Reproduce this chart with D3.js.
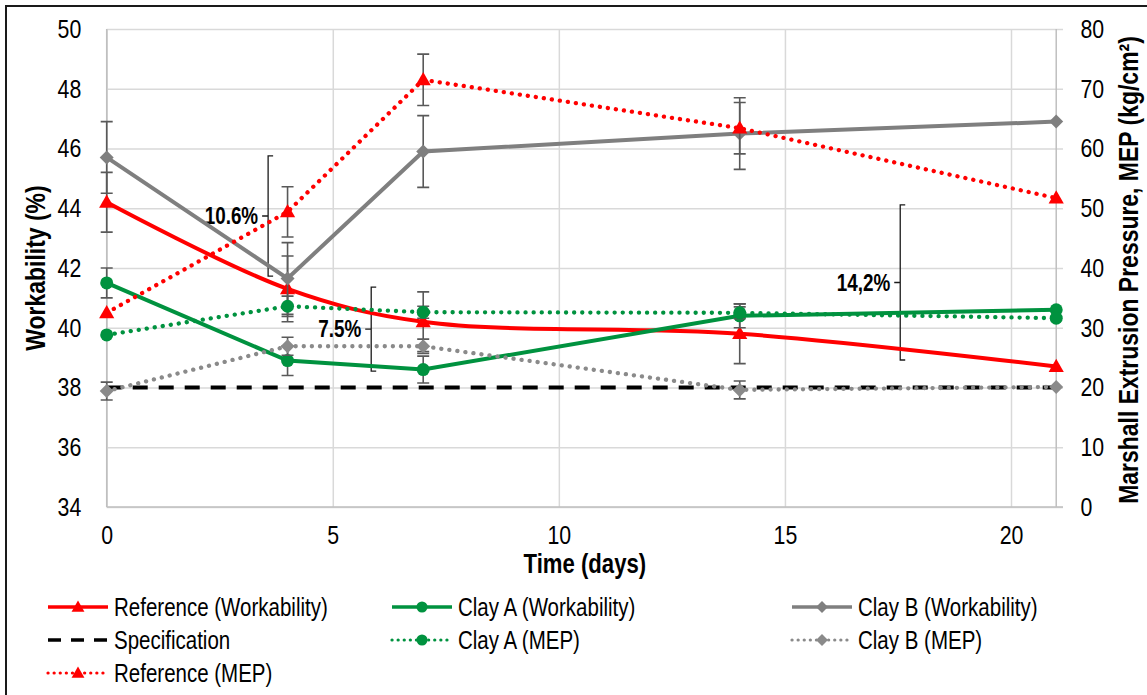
<!DOCTYPE html>
<html>
<head>
<meta charset="utf-8">
<script src="https://cdn.jsdelivr.net/npm/d3@7"></script>
<style>
  body { margin: 0; background: #fff; }
  svg text { font-family: "Liberation Sans Narrow", "Arial Narrow", "Liberation Sans", Arial, sans-serif; fill: #000; }
</style>
</head>
<body>
<div id="chart"></div>
<script>
// data
const days = [0, 4, 7, 14, 21];
const refWork = [44.2, 41.3, 40.2, 39.8, 38.7];
const refWorkErr = [1.0, 1.1, 1.0, 1.0, null];
const clayAWork = [41.5, 38.9, 38.6, 40.4, 40.6];
const clayAWorkErr = [0.5, 0.5, 0.45, 0.4, null];
const clayBWork = [45.7, 41.65, 45.9, 46.5, 46.9];
const clayBWorkErr = [1.2, 1.2, 1.2, 1.2, null];
const specWork = [38, 38, 38, 38, 38];
const clayAMep = [28.8, 33.6, 32.6, 32.5, 31.6];
const clayAMepErr = [null, 1.7, 1.0, 1.0, null];
const clayBMep = [19.4, 26.9, 26.9, 19.6, 20.1];
const clayBMepErr = [1.5, 1.5, 1.2, 1.5, null];
const refMep = [32.5, 49.4, 71.5, 63.4, 51.7];
const refMepErr = [null, 4.2, 4.3, 4.3, null];

const xTicks = [0, 5, 10, 15, 20];
const leftTicks = [34, 36, 38, 40, 42, 44, 46, 48, 50];
const rightTicks = [0, 10, 20, 30, 40, 50, 60, 70, 80];

// brackets: label, day, workability from / to
const brackets = [
    {label: "10.6%", day: 3.57, y0: 45.75, y1: 41.73},
    {label: "7.5%", day: 5.85, y0: 41.36, y1: 38.55},
    {label: "14,2%", day: 17.55, y0: 44.11, y1: 38.92}
];

const red = "#ff0000", green = "#00923f", grey = "#7f7f7f";

const series = [
    {name: "Reference (Workability)", values: refWork, err: refWorkErr, axis: "L", color: red, marker: "tri", style: "solid", smooth: true},
    {name: "Clay A (Workability)", values: clayAWork, err: clayAWorkErr, axis: "L", color: green, marker: "circle", style: "solid"},
    {name: "Clay B (Workability)", values: clayBWork, err: clayBWorkErr, axis: "L", color: grey, marker: "diamond", style: "solid"},
    {name: "Specification", values: specWork, err: null, axis: "L", color: "#000", marker: null, style: "dash"},
    {name: "Clay A (MEP)", values: clayAMep, err: clayAMepErr, axis: "R", color: green, marker: "circle", style: "dot"},
    {name: "Clay B (MEP)", values: clayBMep, err: clayBMepErr, axis: "R", color: "#8a8a8a", marker: "diamond", style: "dot"},
    {name: "Reference (MEP)", values: refMep, err: refMepErr, axis: "R", color: red, marker: "tri", style: "dot"}
];

const width = 1147, height = 695;
const plot = {left: 106.7, right: 1063, top: 29, bottom: 507};
const narrow = 0.82;  // no Arial Narrow here, so squeeze the regular face

const svg = d3.select("#chart")
    .append("svg")
    .attr("width", width)
    .attr("height", height);

// outer frame
svg.append("rect")
    .attr("x", 6).attr("y", 6)
    .attr("width", 1160).attr("height", 720)
    .attr("fill", "none")
    .attr("stroke", "#1a1a1a")
    .attr("stroke-width", 2);

const x = d3.scaleLinear().domain([0, 21.15]).range([plot.left, plot.right]);
const yL = d3.scaleLinear().domain([34, 50]).range([plot.bottom, plot.top]);
const yR = d3.scaleLinear().domain([0, 80]).range([plot.bottom, plot.top]);

// text placed at (tx, ty), squeezed along its own direction
function label(tx, ty, str, opts) {
    const o = opts || {};
    return svg.append("text")
        .attr("transform", `translate(${tx},${ty})${o.rotate ? " rotate(-90)" : ""} scale(${narrow},1)`)
        .attr("text-anchor", o.anchor || "start")
        .attr("dy", o.dy || null)
        .style("font-size", o.size || "25px")
        .style("font-weight", o.bold ? "bold" : null)
        .text(str);
}

// gridlines
svg.append("g")
    .attr("transform", `translate(0,${plot.bottom})`)
    .call(d3.axisBottom(x).tickValues(xTicks).tickSize(-(plot.bottom - plot.top)).tickFormat(""))
    .call(g => g.select(".domain").remove())
    .selectAll("line").attr("stroke", "#d9d9d9").attr("stroke-width", 1.5);

svg.append("g")
    .attr("transform", `translate(${plot.left},0)`)
    .call(d3.axisLeft(yL).tickValues(leftTicks).tickSize(-(plot.right - plot.left)).tickFormat(""))
    .call(g => g.select(".domain").remove())
    .selectAll("line").attr("stroke", "#d9d9d9").attr("stroke-width", 1.5);

// axis lines (left, bottom, and the right one at day 21)
svg.append("line")
    .attr("x1", x(0)).attr("x2", x(0))
    .attr("y1", plot.top).attr("y2", plot.bottom)
    .attr("stroke", "#bfbfbf").attr("stroke-width", 1.5);
svg.append("line")
    .attr("x1", plot.left).attr("x2", plot.right)
    .attr("y1", plot.bottom).attr("y2", plot.bottom)
    .attr("stroke", "#bfbfbf").attr("stroke-width", 1.5);
svg.append("line")
    .attr("x1", x(21)).attr("x2", x(21))
    .attr("y1", plot.top).attr("y2", plot.bottom)
    .attr("stroke", "#bfbfbf").attr("stroke-width", 1.5);

// tick labels
const tickFont = "26px";
function squeezeTicks(g) {
    g.select(".domain").remove();
    g.selectAll("text")
        .style("font-size", tickFont)
        .attr("fill", "#000")
        .attr("transform", `scale(${narrow},1)`);
}

svg.append("g")
    .attr("transform", `translate(${plot.left - 23},0)`)
    .call(d3.axisLeft(yL).tickValues(leftTicks).tickSize(0))
    .call(squeezeTicks);

svg.append("g")
    .attr("transform", `translate(${plot.right + 15},0)`)
    .call(d3.axisRight(yR).tickValues(rightTicks).tickSize(0))
    .call(squeezeTicks);

svg.append("g")
    .attr("transform", `translate(0,${plot.bottom + 16})`)
    .call(d3.axisBottom(x).tickValues(xTicks).tickSize(0))
    .call(squeezeTicks);

// axis titles
label(45, (plot.top + plot.bottom) / 2, "Workability (%)", {rotate: true, anchor: "middle", size: "28px", bold: true});
label(1138, 270, "Marshall Extrusion Pressure, MEP (kg/cm²)", {rotate: true, anchor: "middle", size: "28px", bold: true});
label((plot.left + plot.right) / 2, 573, "Time (days)", {anchor: "middle", size: "27px", bold: true});

// brackets
brackets.forEach(b => {
    const bx = x(b.day), t = yL(b.y0), bt = yL(b.y1), mid = (t + bt) / 2;
    svg.append("path")
        .attr("d", `M${bx + 5},${t} L${bx},${t} L${bx},${bt} L${bx + 5},${bt} M${bx},${mid} L${bx - 6},${mid}`)
        .attr("fill", "none")
        .attr("stroke", "#1a1a1a")
        .attr("stroke-width", 1.3);
    label(bx - 10, mid, b.label, {anchor: "end", dy: "0.35em", size: "23px", bold: true});
});

function dashFor(style) {
    if (style === "dash") return "15 11";
    if (style === "dot") return "0.1 8";
    return null;
}

function drawMarker(g, type, color, cx, cy, scale) {
    const k = scale || 1;
    if (type === "tri") {
        g.append("path")
            .attr("d", d3.symbol(d3.symbolTriangle, 100 * k * k)())
            .attr("transform", `translate(${cx},${cy + 1})`)
            .attr("fill", color);
    } else if (type === "circle") {
        g.append("circle").attr("cx", cx).attr("cy", cy).attr("r", 6.5 * k).attr("fill", color);
    } else if (type === "diamond") {
        const r = 7 * k;
        g.append("path")
            .attr("d", `M${cx},${cy - r} L${cx + r},${cy} L${cx},${cy + r} L${cx - r},${cy} Z`)
            .attr("fill", color);
    }
}

// series
series.forEach(s => {
    const y = s.axis === "L" ? yL : yR;
    const pts = days.map((d, i) => [d, s.values[i], s.err ? s.err[i] : null]);
    const g = svg.append("g");
    const line = d3.line()
        .x(d => x(d[0]))
        .y(d => y(d[1]))
        .curve(s.smooth ? d3.curveCatmullRom.alpha(0.5) : d3.curveLinear);

    g.append("path")
        .datum(pts)
        .attr("d", line)
        .attr("fill", "none")
        .attr("stroke", s.color)
        .attr("stroke-width", s.style === "dot" ? 4.3 : 4)
        .attr("stroke-linecap", s.style === "dot" ? "round" : "butt")
        .attr("stroke-dasharray", dashFor(s.style));

    // error bars
    pts.filter(d => d[2] != null).forEach(d => {
        const cx = x(d[0]), y0 = y(d[1] - d[2]), y1 = y(d[1] + d[2]);
        g.append("path")
            .attr("d", `M${cx},${y0} L${cx},${y1} M${cx - 6},${y0} L${cx + 6},${y0} M${cx - 6},${y1} L${cx + 6},${y1}`)
            .attr("fill", "none")
            .attr("stroke", "#595959")
            .attr("stroke-width", 1.6);
    });

    if (s.marker) {
        pts.forEach(d => drawMarker(g, s.marker, s.color, x(d[0]), y(d[1])));
    }
});

// legend, 3 columns row by row
const legendCols = [48, 392, 792];
const legendRows = [607, 640, 673];
series.forEach((s, i) => {
    const lx = legendCols[i % 3], ly = legendRows[Math.floor(i / 3)];
    const g = svg.append("g");
    g.append("line")
        .attr("x1", lx).attr("x2", lx + 60)
        .attr("y1", ly).attr("y2", ly)
        .attr("stroke", s.color)
        .attr("stroke-width", s.style === "dot" ? 3.2 : 3.6)
        .attr("stroke-linecap", s.style === "dot" ? "round" : "butt")
        .attr("stroke-dasharray", s.style === "dash" ? "13 10" : (s.style === "dot" ? "0.1 6" : null));
    if (s.marker) drawMarker(g, s.marker, s.color, lx + 30, ly, 0.85);
    label(lx + 66, ly, s.name, {dy: "0.35em", size: "25px"});
});
</script>
</body>
</html>
